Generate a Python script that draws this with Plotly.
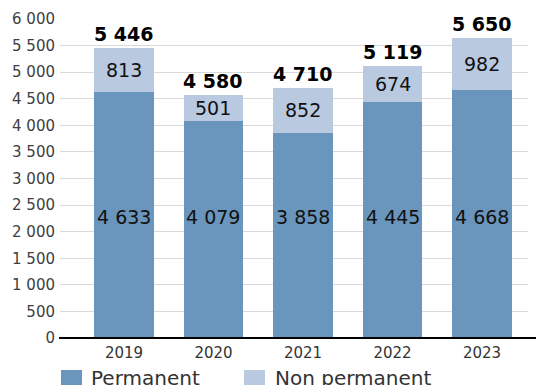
import plotly.graph_objects as go

# Staff headcount by contract type
years = ["2019", "2020", "2021", "2022", "2023"]
permanent = [4633, 4079, 3858, 4445, 4668]
non_permanent = [813, 501, 852, 674, 982]
series_names = ["Permanent", "Non permanent"]
y_ticks = list(range(0, 6001, 500))

COL_PERM = "#6a95bc"
COL_NONPERM = "#b9c9e0"
FONT = "DejaVu Sans"

W, H = 536, 385
L, R, T, B = 60, 8, 19, 47
plot_w = W - L - R
plot_h = H - T - B


def fmt(v):
    return f"{v:,}".replace(",", " ")


def px_x(px):
    return (px - L) / plot_w


def px_y(py):
    return (H - B - py) / plot_h


totals = [p + n for p, n in zip(permanent, non_permanent)]

fig = go.Figure()
fig.add_trace(go.Bar(x=years, y=permanent, name=series_names[0],
                     marker=dict(color=COL_PERM, line_width=0)))
fig.add_trace(go.Bar(x=years, y=non_permanent, name=series_names[1],
                     marker=dict(color=COL_NONPERM, line_width=0)))

annotations = []
for i, (p, n, t) in enumerate(zip(permanent, non_permanent, totals)):
    # permanent value, all on one common level
    annotations.append(dict(xref="x", yref="y", x=i, y=2275, text=fmt(p), showarrow=False,
                            font=dict(family=FONT, size=19, color="#111111"),
                            xanchor="center", yanchor="middle"))
    # non-permanent value, centred in its segment
    annotations.append(dict(xref="x", yref="y", x=i, y=p + n / 2, text=fmt(n), showarrow=False,
                            font=dict(family=FONT, size=19, color="#111111"),
                            xanchor="center", yanchor="middle"))
    # total above the bar
    annotations.append(dict(xref="x", yref="y", x=i, y=t, text="<b>" + fmt(t) + "</b>",
                            showarrow=False,
                            font=dict(family=FONT, size=19, color="#000000"),
                            xanchor="center", yanchor="bottom", yshift=1))

# hand-drawn legend with large swatches
shapes = [
    dict(type="line", xref="paper", yref="paper", x0=px_x(59), x1=px_x(536),
         y0=0, y1=0, line=dict(color="#000000", width=2), layer="above"),
]
legend_items = [(61, 89, COL_PERM, series_names[0]), (244, 273, COL_NONPERM, series_names[1])]
for sx, tx, col, name in legend_items:
    shapes.append(dict(type="rect", xref="paper", yref="paper",
                       x0=px_x(sx), x1=px_x(sx + 21), y0=px_y(392), y1=px_y(370),
                       fillcolor=col, line_width=0))
    annotations.append(dict(xref="paper", yref="paper", x=px_x(tx), y=px_y(378),
                            text=name, showarrow=False, xanchor="left", yanchor="middle",
                            font=dict(family=FONT, size=20, color="#333333")))

fig.update_layout(
    width=W, height=H,
    margin=dict(l=L, r=R, t=T, b=B, pad=0),
    barmode="stack",
    bargap=0.33,
    showlegend=False,
    plot_bgcolor="white",
    paper_bgcolor="white",
    font=dict(family=FONT, size=15, color="#404040"),
    annotations=annotations,
    shapes=shapes,
    xaxis=dict(type="category", range=[-0.715, 4.514], showgrid=False, showline=False,
               ticks="", tickfont=dict(size=15, color="#333333"), ticklabelstandoff=4),
    yaxis=dict(range=[0, 6000], tickvals=y_ticks, ticktext=[fmt(v) for v in y_ticks],
               showgrid=True, gridcolor="#d9d9d9", gridwidth=1, zeroline=False,
               showline=False, ticks="", tickfont=dict(size=15, color="#404040"),
               ticklabelstandoff=4),
)

fig.write_html("out.html")
